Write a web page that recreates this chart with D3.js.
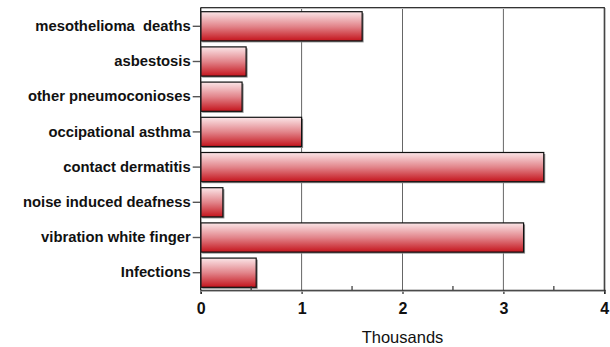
<!DOCTYPE html>
<html>
<head>
<meta charset="utf-8">
<script src="https://cdn.jsdelivr.net/npm/d3@7"></script>
<style>
  html, body { margin: 0; padding: 0; background: #fff; }
  svg { display: block; }
</style>
</head>
<body>
<svg id="chart" width="610" height="347"></svg>
<script>
// Occupational ill-health cases, in thousands
const categories = [
  "mesothelioma  deaths",
  "asbestosis",
  "other pneumoconioses",
  "occipational asthma",
  "contact dermatitis",
  "noise induced deafness",
  "vibration white finger",
  "Infections"
];
const values = [1.6, 0.45, 0.41, 1.0, 3.4, 0.22, 3.2, 0.55];
const xTicks = [0, 1, 2, 3, 4];
const xMinorTicks = [0.5, 1.5, 2.5, 3.5];
const xTitle = "Thousands";

const svg = d3.select("#chart");
const plotLeft = 200.7, plotRight = 604.3, plotTop = 7.5, plotBottom = 290;

const x = d3.scaleLinear().domain([0, 4]).range([plotLeft, plotRight]);
const y = d3.scaleBand().domain(categories).range([plotTop + 1.2, plotBottom + 0.3])
  .paddingInner(0.17).paddingOuter(0.085);

// bar fill: pale pink at the top fading into red at the bottom
const defs = svg.append("defs");
const grad = defs.append("linearGradient")
  .attr("id", "barFill").attr("x1", 0).attr("y1", 0).attr("x2", 0).attr("y2", 1);
grad.append("stop").attr("offset", "0%").attr("stop-color", "#fbe6e8");
grad.append("stop").attr("offset", "50%").attr("stop-color", "#e2858b");
grad.append("stop").attr("offset", "100%").attr("stop-color", "#c4141c");

// vertical gridlines
svg.append("g").selectAll("line")
  .data(xTicks.slice(1, -1))
  .join("line")
  .attr("x1", d => x(d)).attr("x2", d => x(d))
  .attr("y1", plotTop).attr("y2", plotBottom)
  .attr("stroke", "#666").attr("stroke-width", 1);

// plot frame with soft shadow
const frame = svg.append("g");
frame.append("path")
  .attr("d", `M${plotLeft},${plotTop + 1} H${plotRight + 1} V${plotBottom + 1}`)
  .attr("fill", "none").attr("stroke", "#bbb").attr("stroke-width", 1.2);
frame.append("path")
  .attr("d", `M${plotLeft},${plotTop} H${plotRight} V${plotBottom}`)
  .attr("fill", "none").attr("stroke", "#333").attr("stroke-width", 1.2);

// bars: grey drop shadow, gradient body, dark outline
const bars = svg.append("g");
bars.selectAll("rect.shadow")
  .data(values)
  .join("rect")
  .attr("class", "shadow")
  .attr("x", x(0) + 1.5)
  .attr("y", (d, i) => y(categories[i]) + 1.5)
  .attr("width", d => x(d) - x(0))
  .attr("height", y.bandwidth())
  .attr("fill", "#8a8a8a");
bars.selectAll("rect.bar")
  .data(values)
  .join("rect")
  .attr("class", "bar")
  .attr("x", x(0))
  .attr("y", (d, i) => y(categories[i]))
  .attr("width", d => x(d) - x(0))
  .attr("height", y.bandwidth())
  .attr("fill", "url(#barFill)")
  .attr("stroke", "#111").attr("stroke-width", 1.2);

// y axis
const yAxis = svg.append("g")
  .attr("transform", `translate(${plotLeft},0)`)
  .call(d3.axisLeft(y).tickSize(8).tickPadding(2));
yAxis.select(".domain").remove();
svg.append("line")
  .attr("x1", plotLeft).attr("x2", plotLeft)
  .attr("y1", plotTop).attr("y2", plotBottom)
  .attr("stroke", "#222").attr("stroke-width", 1.4);
yAxis.selectAll(".tick line").attr("stroke", "#555").attr("stroke-width", 1.4);
yAxis.selectAll(".tick text")
  .attr("fill", "#111")
  .style("white-space", "pre")
  .style("font-family", "'Liberation Sans', Arial, sans-serif")
  .style("font-weight", "bold")
  .style("font-size", "14.8px");

// x axis with major ticks below and minor ticks inside
const xAxis = svg.append("g")
  .attr("transform", `translate(0,${plotBottom})`)
  .call(d3.axisBottom(x).tickValues(xTicks).tickFormat(d3.format("d")).tickSize(4).tickPadding(9));
xAxis.select(".domain").attr("stroke", "#333").attr("stroke-width", 1.4);
xAxis.selectAll(".tick line").attr("stroke", "#222").attr("stroke-width", 1.2);
xAxis.selectAll(".tick text")
  .attr("fill", "#111")
  .style("font-family", "'Liberation Sans', Arial, sans-serif")
  .style("font-weight", "bold")
  .style("font-size", "16px");
svg.append("line")
  .attr("x1", plotLeft).attr("x2", plotRight)
  .attr("y1", plotBottom + 1.3).attr("y2", plotBottom + 1.3)
  .attr("stroke", "#aaa").attr("stroke-width", 1);
svg.append("g").selectAll("line")
  .data(xMinorTicks)
  .join("line")
  .attr("x1", d => x(d)).attr("x2", d => x(d))
  .attr("y1", plotBottom).attr("y2", plotBottom - 4)
  .attr("stroke", "#333").attr("stroke-width", 1.2);

svg.append("text")
  .attr("x", (plotLeft + plotRight) / 2)
  .attr("y", 342.5)
  .attr("text-anchor", "middle")
  .attr("fill", "#111")
  .style("font-family", "'Liberation Sans', Arial, sans-serif")
  .style("font-size", "16.5px")
  .text(xTitle);
</script>
</body>
</html>
